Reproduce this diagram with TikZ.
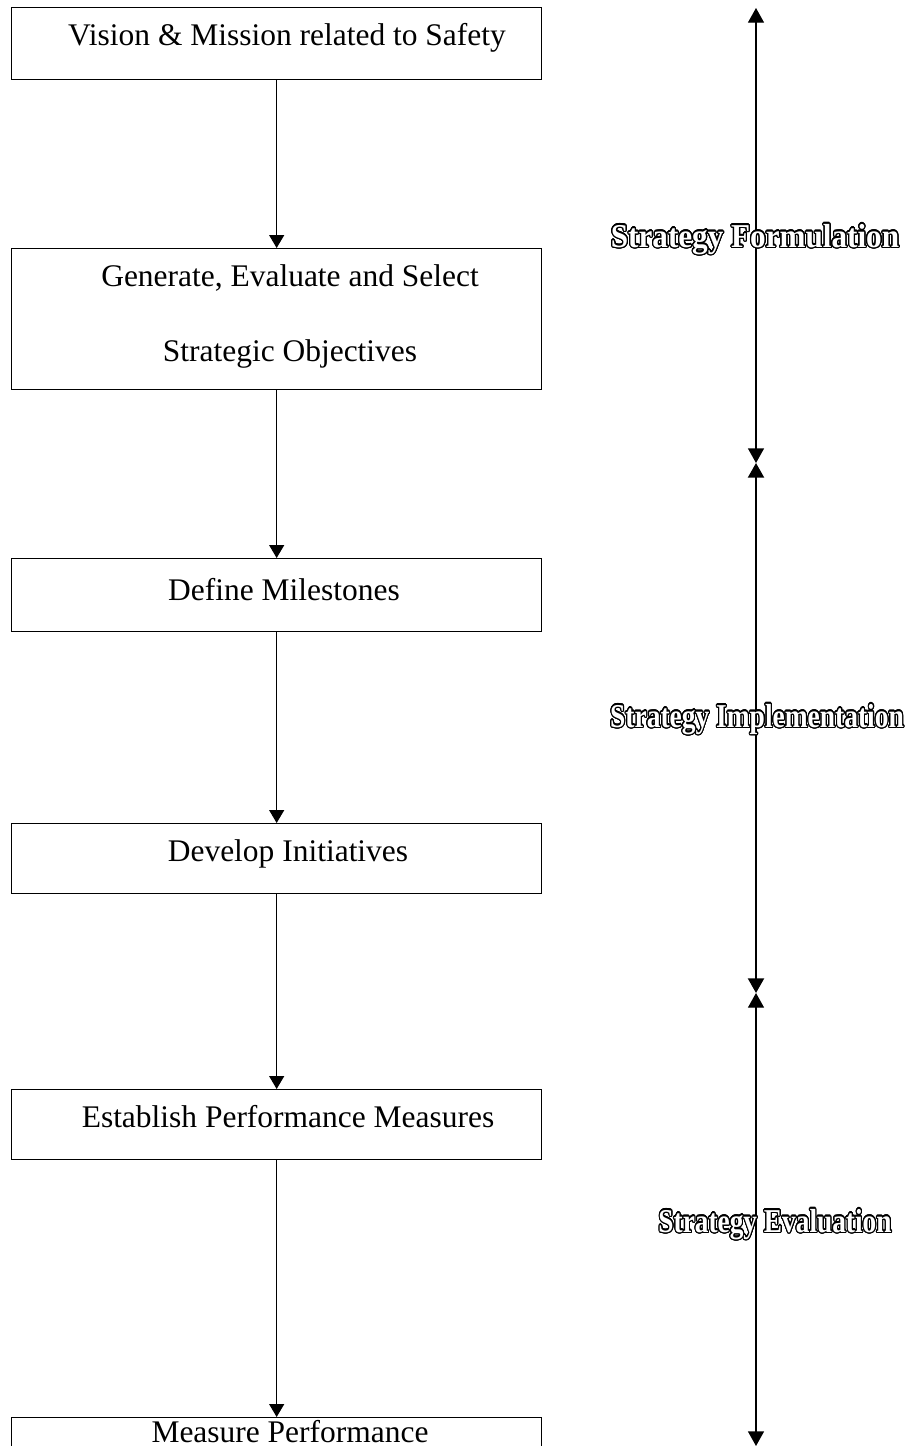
\documentclass[tikz,border=0pt]{standalone}
\usepackage{fontspec}
\setmainfont{Liberation Serif}
\usepackage{contour}
\contourlength{1pt}
\contournumber{24}
\usetikzlibrary{arrows.meta}
\tikzset{
  stepbox/.style={draw, line width=1pt, minimum width=530*0.75pt, inner sep=0pt, anchor=north west},
  boxtext/.style={font=\fontsize{23.6}{27}\selectfont, anchor=center},
  flow/.style={line width=1pt, -{Triangle[length=9.75pt,width=11.25pt]}},
  phase/.style={line width=1pt, {Triangle[length=11pt,width=12pt]}-{Triangle[length=11pt,width=12pt]}},
  phaselabel/.style={font=\bfseries\fontsize{25}{29}\selectfont, anchor=center}
}
\newcommand{\outlined}[1]{\contour{black}{\textcolor{white}{#1}}}
\begin{document}
\begin{tikzpicture}[x=0.75pt, y=-0.75pt]
  \useasboundingbox (0,0) rectangle (909,1446);

  % process boxes
  \node[stepbox, minimum height=72*0.75pt] (b1) at (11,7) {};
  \node[stepbox, minimum height=141*0.75pt] (b2) at (11,248) {};
  \node[stepbox, minimum height=73*0.75pt] (b3) at (11,558) {};
  \node[stepbox, minimum height=70*0.75pt] (b4) at (11,823) {};
  \node[stepbox, minimum height=70*0.75pt] (b5) at (11,1089) {};
  \node[stepbox, minimum height=70*0.75pt] (b6) at (11,1417) {};

  % box texts
  \node[boxtext] (t1) at (287,38) {Vision \& Mission related to Safety};
  \node[boxtext] (t2a) at (290,278) {Generate, Evaluate and Select};
  \node[boxtext] (t2b) at (290,354) {Strategic Objectives};
  \node[boxtext] (t3) at (284,590) {Define Milestones};
  \node[boxtext] (t4) at (288,854) {Develop Initiatives};
  \node[boxtext] (t5) at (288,1117) {Establish Performance Measures};
  \node[boxtext, anchor=base] (t6) at (290,1442) {Measure Performance};

  % flow arrows between boxes
  \draw[flow] (b1.south) -- (b2.north);
  \draw[flow] (b2.south) -- (b3.north);
  \draw[flow] (b3.south) -- (b4.north);
  \draw[flow] (b4.south) -- (b5.north);
  \draw[flow] (b5.south) -- (b6.north);

  % phase spans
  \coordinate (p0) at (756,8);
  \coordinate (p1) at (756,463);
  \coordinate (p2) at (756,993);
  \coordinate (p3) at (756,1446);
  \draw[phase] (p0) -- (p1);
  \draw[phase, line width=1.6pt] (p1) -- (p2);
  \draw[phase] (p2) -- (p3);

  % phase labels
  \node[phaselabel, xscale=0.935] (l1) at (755,240) {\outlined{Strategy Formulation}};
  \node[phaselabel, xscale=0.824] (l2) at (757,720) {\outlined{Strategy Implementation}};
  \node[phaselabel, xscale=0.82] (l3) at (775,1225) {\outlined{Strategy Evaluation}};
\end{tikzpicture}
\end{document}
